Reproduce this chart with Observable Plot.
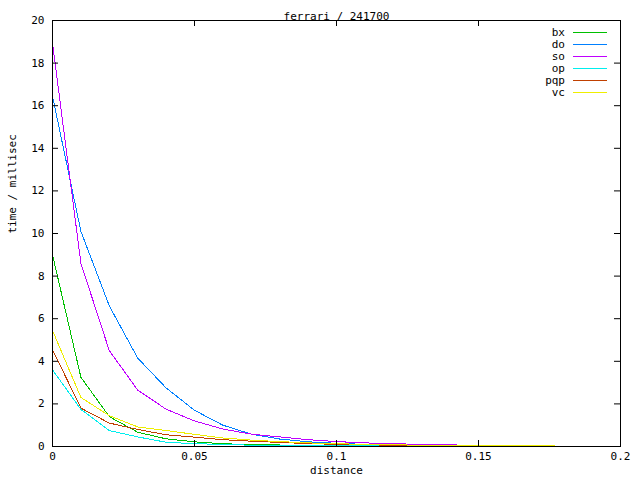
<!DOCTYPE html>
<html>
<head>
<meta charset="utf-8">
<script src="https://cdn.jsdelivr.net/npm/d3@7"></script>
<script src="https://cdn.jsdelivr.net/npm/@observablehq/plot@0.6"></script>
<style>
  html, body { margin: 0; padding: 0; background: #fff; }
  svg { font-family: "DejaVu Sans Mono", monospace; }
</style>
</head>
<body>
<div id="chart"></div>
<script>
const title = "ferrari / 241700";
const xLabel = "distance";
const yLabel = "time / millisec";
const distances = [0, 0.01, 0.02, 0.03, 0.04, 0.05, 0.06, 0.07, 0.08, 0.09, 0.10,
                   0.11, 0.12, 0.13, 0.14, 0.15, 0.16, 0.17, 0.18, 0.19, 0.20];
const seriesNames = ["bx", "do", "so", "op", "pqp", "vc"];
const seriesColors = ["#00c000", "#0080ff", "#c000ff", "#00eeee", "#c04000", "#eeee00"];
const bx  = [9.0, 3.25, 1.4, 0.67, 0.36, 0.22, 0.13, 0.09, 0.07, 0.06, 0.05, 0.04, 0.03, 0.03, 0.02, 0.02, 0.02, 0.01, 0.01, 0.01, 0.01];
const dO  = [16.45, 10.1, 6.6, 4.15, 2.75, 1.7, 1.0, 0.58, 0.35, 0.22, 0.15, 0.1, 0.08, 0.06, 0.05, 0.04, 0.03, 0.03, 0.02, 0.02, 0.02];
const so  = [18.95, 8.6, 4.5, 2.65, 1.75, 1.2, 0.82, 0.58, 0.45, 0.32, 0.23, 0.17, 0.13, 0.1, 0.08, 0.04, 0.03, 0.03, 0.02, 0.02, 0.02];
const op  = [3.6, 1.74, 0.75, 0.45, 0.2, 0.13, 0.1, 0.06, 0.05, 0.04, 0.03, 0.03, 0.02, 0.02, 0.02, 0.01, 0.01, 0.01, 0.01, 0.01, 0.01];
const pqp = [4.55, 1.8, 1.1, 0.8, 0.55, 0.44, 0.32, 0.25, 0.19, 0.14, 0.1, 0.08, 0.06, 0.05, 0.05, 0.04, 0.03, 0.03, 0.02, 0.02, 0.02];
const vc  = [5.45, 2.3, 1.45, 0.92, 0.75, 0.57, 0.4, 0.3, 0.23, 0.17, 0.13, 0.1, 0.08, 0.06, 0.05, 0.04, 0.03, 0.03, 0.02, 0.02, 0.02];
const xTicks = [0, 0.05, 0.1, 0.15, 0.2];
const yTicks = [0, 2, 4, 6, 8, 10, 12, 14, 16, 18, 20];

const seriesValues = [bx, dO, so, op, pqp, vc];
const data = seriesNames.flatMap((name, i) =>
  distances.map((d, j) => ({series: name, x: d, y: seriesValues[i][j]})));

const W = 640, H = 480;
const mL = 52, mR = 20, mT = 20, mB = 34;
const pw = W - mL - mR, ph = H - mT - mB;
const tickLen = 6;

const chart = Plot.plot({
  width: W, height: H,
  marginLeft: mL, marginRight: mR, marginTop: mT, marginBottom: mB,
  style: {fontFamily: "DejaVu Sans Mono, monospace", fontSize: "11px", color: "#000", background: "#fff"},
  x: {domain: [0, 0.2], axis: null},
  y: {domain: [0, 20], axis: null},
  color: {domain: seriesNames, range: seriesColors},
  marks: [
    Plot.line(data, {x: "x", y: "y", z: "series", stroke: "series", strokeWidth: 1, shapeRendering: "crispEdges"}),
    Plot.frame({stroke: "#000", strokeWidth: 1}),
    Plot.tickX(xTicks, {x: d => d, insetTop: ph - tickLen, stroke: "#000"}),
    Plot.tickX(xTicks, {x: d => d, insetBottom: ph - tickLen, stroke: "#000"}),
    Plot.tickY(yTicks, {y: d => d, insetRight: pw - tickLen, stroke: "#000"}),
    Plot.tickY(yTicks, {y: d => d, insetLeft: pw - tickLen, stroke: "#000"}),
    Plot.axisX({ticks: xTicks, tickSize: 0, tickPadding: 6, tickFormat: d => String(d), label: null, fontSize: 11}),
    Plot.axisY({ticks: yTicks, tickSize: 0, tickPadding: 8, tickFormat: d => String(d), label: null, fontSize: 11}),
    Plot.text([xLabel], {frameAnchor: "bottom", dy: 27, text: d => d, fontSize: 11, fill: "#000"}),
    Plot.text([yLabel], {frameAnchor: "left", dx: -40, rotate: -90, text: d => d, fontSize: 11, fill: "#000"}),
    Plot.text([title], {frameAnchor: "top", dy: -8, text: d => d, fontSize: 11, fill: "#000"})
  ]
});

document.getElementById("chart").appendChild(chart);

// Legend (top-right, gnuplot style)
const svgEl = chart.tagName.toLowerCase() === "svg" ? chart : chart.querySelector("svg");
const svgSel = d3.select(svgEl);
const xr = chart.scale("x").range, yr = chart.scale("y").range;
const frameRight = Math.max(...xr), frameTop = Math.min(...yr);
const leg = svgSel.append("g").attr("font-size", 11).attr("font-family", "DejaVu Sans Mono, monospace");
seriesNames.forEach((name, i) => {
  const yy = frameTop + 12.5 + i * 12;
  leg.append("text").attr("x", frameRight - 55).attr("y", yy).attr("dy", "0.35em")
     .attr("text-anchor", "end").attr("fill", "#000").text(name);
  leg.append("line").attr("x1", frameRight - 47).attr("x2", frameRight - 13)
     .attr("y1", yy).attr("y2", yy).attr("stroke", seriesColors[i]).attr("stroke-width", 1);
});
</script>
</body>
</html>
